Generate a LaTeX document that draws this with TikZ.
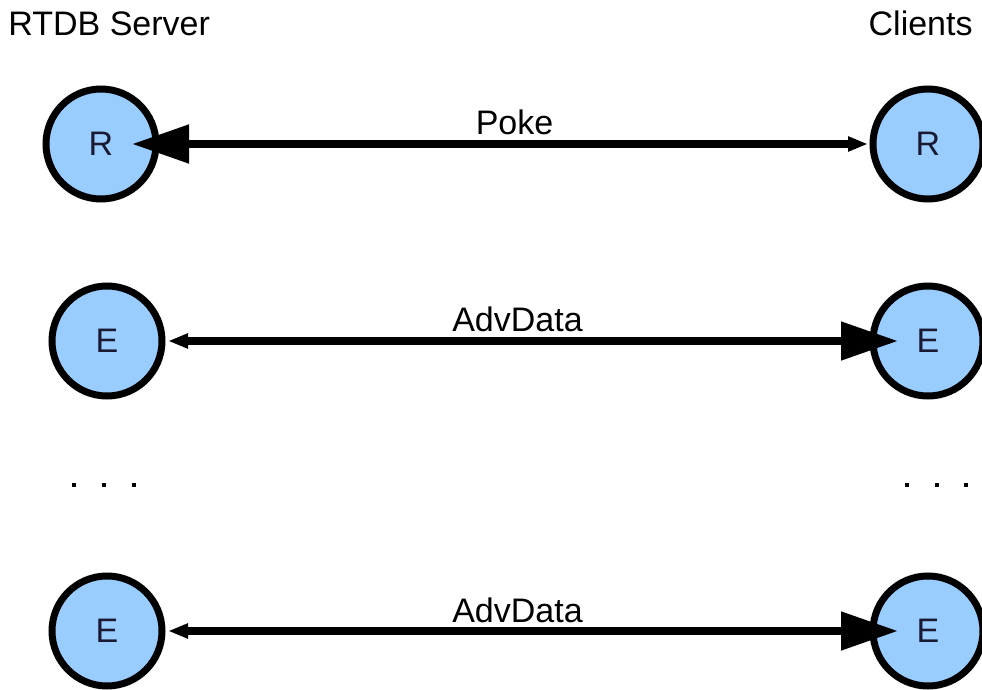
\documentclass[tikz,border=0pt]{standalone}
\usepackage{fontspec}
\setmainfont{Liberation Sans}
\usetikzlibrary{arrows.meta}
\definecolor{nodeblue}{RGB}{153,204,255}
\definecolor{nodetext}{RGB}{25,25,50}

\begin{document}
\begin{tikzpicture}[
  x=0.5pt, y=-0.5pt,
  st/.style={draw,circle,line width=3.5pt,fill=nodeblue,minimum size=55pt,
    inner sep=0pt,outer sep=0pt,text=nodetext,font=\fontsize{17}{20}\selectfont},
  msg/.style={line width=4pt},
  lab/.style={anchor=base,yshift=4.5pt,inner sep=0pt,font=\fontsize{17}{20}\selectfont},
  title/.style={inner sep=0pt,font=\fontsize{17}{20}\selectfont},
  bigtip/.tip={Triangle[length=28.5pt,width=18.5pt]},
  smalltip/.tip={Triangle[length=10pt,width=7pt]}
    ]
    \useasboundingbox (0,0) rectangle (982,690);
    \node[title,anchor=base west] (srv) at (8,36) {RTDB Server};
    \node[title,anchor=base east] (cli) at (973,36) {Clients};
    \node[st] (srvR) at (101,144) {R};
    \node[st] (cliR) at (928,144) {R};
    \node[st] (srvE1) at (107,341) {E};
    \node[st] (cliE1) at (928,341) {E};
    \node[st] (srvE2) at (107,631) {E};
    \node[st] (cliE2) at (928,631) {E};
    % continuation dots
    \foreach \x in {74,104,134,907,937,966}
      \fill (\x-2,483) rectangle (\x+2,487);
    \draw[msg,{bigtip}-{smalltip},shorten <=-12pt,shorten >=2.5pt]
      (srvR) -- node[lab] {Poke} (cliR);
    \draw[msg,{smalltip}-{bigtip},shorten <=3pt,shorten >=-12.5pt]
      (srvE1) -- node[lab] {AdvData} (cliE1);
    \draw[msg,{smalltip}-{bigtip},shorten <=3pt,shorten >=-12.5pt]
      (srvE2) -- node[lab] {AdvData} (cliE2);
    \end{tikzpicture}
\end{document}
